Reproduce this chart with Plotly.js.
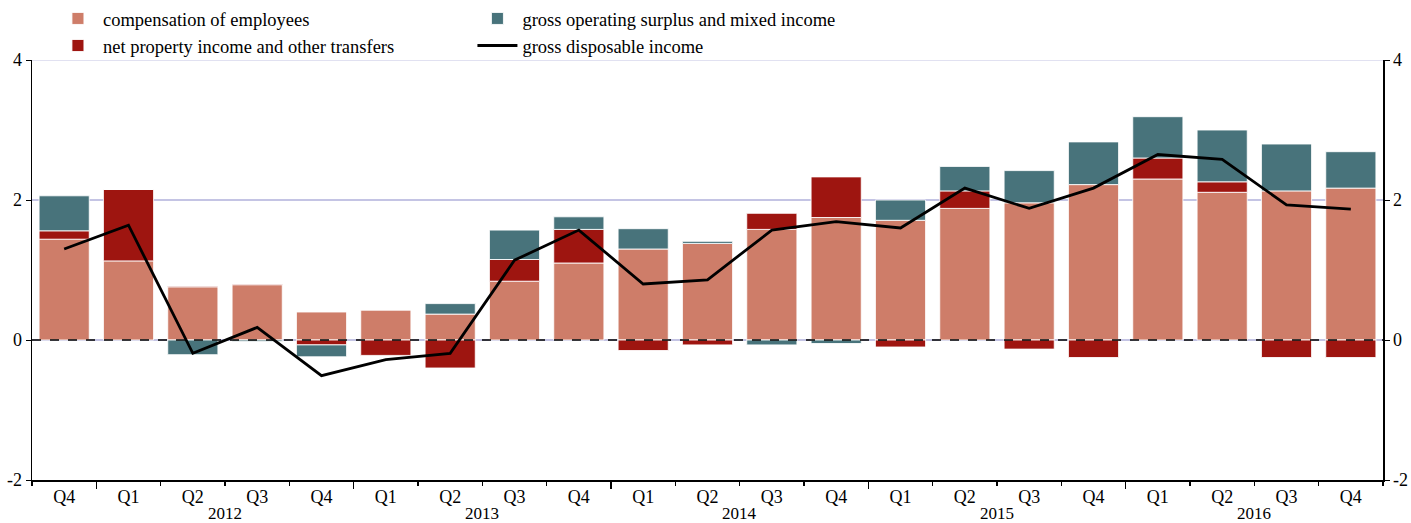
<!DOCTYPE html>
<html>
<head>
<meta charset="utf-8">
<script src="https://cdn.plot.ly/plotly-3.0.1.min.js"></script>
<style>html,body{margin:0;padding:0;background:#fff;}#chart{width:1411px;height:523px;}</style>
</head>
<body>
<div id="chart"></div>
<script>
// Data
const quarters = ["Q4","Q1","Q2","Q3","Q4","Q1","Q2","Q3","Q4","Q1","Q2","Q3","Q4","Q1","Q2","Q3","Q4","Q1","Q2","Q3","Q4"];
const years = ["2011","2012","2012","2012","2012","2013","2013","2013","2013","2014","2014","2014","2014","2015","2015","2015","2015","2016","2016","2016","2016"];
const yearLabels = ["2012","2013","2014","2015","2016"];
const compensation = [1.44,1.13,0.76,0.79,0.40,0.43,0.37,0.84,1.10,1.30,1.38,1.58,1.75,1.71,1.88,1.96,2.22,2.30,2.11,2.13,2.17];
const netProperty  = [0.12,1.02,0.01,0.01,-0.07,-0.22,-0.40,0.31,0.48,-0.15,-0.07,0.23,0.58,-0.10,0.25,-0.13,-0.25,0.30,0.15,-0.25,-0.25];
const grossOperating = [0.50,0.00,-0.21,-0.02,-0.17,0.00,0.15,0.42,0.18,0.29,0.03,-0.07,-0.05,0.29,0.35,0.46,0.61,0.59,0.74,0.67,0.52];
const disposable = [1.30,1.64,-0.19,0.18,-0.51,-0.28,-0.19,1.14,1.57,0.80,0.86,1.57,1.69,1.60,2.17,1.88,2.17,2.65,2.58,1.93,1.87];
const yTicks = [-2, 0, 2, 4];
const yTickText = ["-2", "0", "2", "4"];

const idx = quarters.map((_, i) => i);
const font = "Liberation Serif, Times New Roman, serif";
const outline = {color: "rgba(255,255,255,0.85)", width: 1};

const W = 1411, H = 523;
const M = {l: 32, r: 28, t: 60, b: 43};
const plotH = H - M.t - M.b;

const traces = [
  {type: "bar", name: "compensation of employees", x: idx, y: compensation,
   marker: {color: "#CE7D69", line: outline}, legend: "legend", hoverinfo: "skip"},
  {type: "bar", name: "net property income and other transfers", x: idx, y: netProperty,
   marker: {color: "#9E1510", line: outline}, legend: "legend", hoverinfo: "skip"},
  {type: "bar", name: "gross operating surplus and mixed income", x: idx, y: grossOperating,
   marker: {color: "#48737B", line: outline}, legend: "legend2", hoverinfo: "skip"},
  {type: "scatter", mode: "lines", name: "gross disposable income", x: idx, y: disposable,
   xaxis: "x2", yaxis: "y2", line: {color: "#000", width: 2.8}, legend: "legend2", hoverinfo: "skip"}
];

// year labels: second label row under the quarters
const yearY = -33 / plotH;
const yearAnn = yearLabels.map(yr => {
  const ids = idx.filter(i => years[i] === yr);
  const c = ids.reduce((a, b) => a + b, 0) / ids.length;
  return {x: c, xref: "x", y: yearY, yref: "paper", text: yr, showarrow: false,
          font: {family: font, size: 17, color: "#000"}, yanchor: "middle", borderpad: 0};
});

const boundaries = idx.concat([idx.length]).map(i => i - 0.5);
const yearBoundaries = idx.filter(i => i > 0 && years[i] !== years[i - 1]).map(i => i - 0.5);

const range = [-0.5, quarters.length - 0.5];
const yRange = [yTicks[0], yTicks[yTicks.length - 1]];
const tickFont = {family: font, size: 18, color: "#000"};
const legFont = {family: font, size: 18.5, color: "#000"};

const layout = {
  width: W, height: H,
  margin: {l: M.l, r: M.r, t: M.t, b: M.b, autoexpand: false},
  paper_bgcolor: "#fff", plot_bgcolor: "#fff",
  barmode: "relative", bargap: 0.22,
  font: {family: font, color: "#000"},
  xaxis: {range: range, tickmode: "array", tickvals: idx, ticktext: quarters,
          ticks: "", tickfont: tickFont, showgrid: false, zeroline: false,
          showline: true, linecolor: "#000", linewidth: 1.5, fixedrange: true, automargin: false},
  xaxis2: {range: range, overlaying: "x", anchor: "y2", side: "bottom",
           tickmode: "array", tickvals: yearBoundaries, ticks: "outside", ticklen: 8,
           tickcolor: "#000", tickwidth: 1.2, showticklabels: false, showgrid: false,
           zeroline: false, showline: false, automargin: false,
           minor: {tickmode: "array", tickvals: boundaries, ticks: "outside", ticklen: 5,
                   tickcolor: "#000", tickwidth: 1.2, showgrid: false}},
  yaxis: {range: yRange, tickmode: "array", tickvals: yTicks, ticktext: yTickText, ticks: "outside",
          ticklen: 5, tickcolor: "#000", tickfont: tickFont, showgrid: true,
          gridcolor: "#C4C4E4", gridwidth: 1.2, zeroline: false, showline: true,
          linecolor: "#000", linewidth: 1.5, fixedrange: true, automargin: false},
  yaxis2: {range: yRange, overlaying: "y", side: "right", tickmode: "array",
           tickvals: yTicks, ticktext: yTickText, ticks: "outside", ticklen: 5, tickcolor: "#000",
           tickfont: tickFont, showgrid: false, zeroline: false, showline: true,
           linecolor: "#000", linewidth: 1.5, fixedrange: true, automargin: false},
  legend: {x: 0.0155, xanchor: "left", yref: "container", y: 0.938, yanchor: "middle",
           orientation: "v", font: legFont, itemwidth: 40,
           bgcolor: "rgba(0,0,0,0)", tracegroupgap: 0, traceorder: "normal"},
  legend2: {x: 0.326, xanchor: "left", yref: "container", y: 0.938, yanchor: "middle",
           orientation: "v", font: legFont, itemwidth: 40,
           bgcolor: "rgba(0,0,0,0)", tracegroupgap: 0, traceorder: "normal"},
  shapes: [
    {type: "line", xref: "paper", x0: 0, x1: 1, yref: "y", y0: 0, y1: 0,
     line: {color: "#000", width: 1.6, dash: "dash"}, layer: "above"},
    {type: "line", xref: "paper", x0: 0, x1: 1, yref: "y", y0: yRange[1], y1: yRange[1],
     line: {color: "#C4C4E4", width: 1.2}, layer: "below"}
  ],
  annotations: yearAnn
};

Plotly.newPlot("chart", traces, layout, {staticPlot: true, displayModeBar: false});
</script>
</body>
</html>
